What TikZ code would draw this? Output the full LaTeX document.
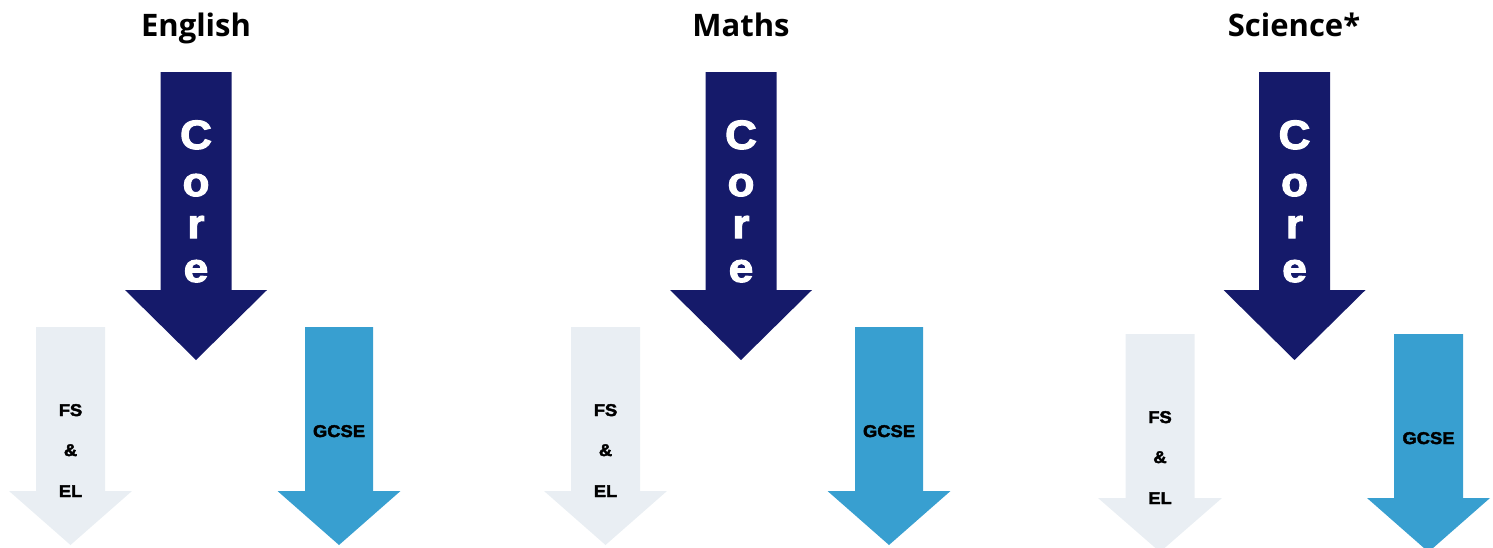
\documentclass[tikz,border=0pt]{standalone}
\usepackage{fontspec}
\setmainfont{Liberation Sans}
\newfontfamily\titlefont{Open Sans}
\newfontfamily\heavyfont[BoldFeatures={FakeBold=2.5,FakeStretch=1.08}]{Liberation Sans}
\definecolor{navy}{HTML}{151A6A}
\definecolor{palegrey}{HTML}{E9EEF3}
\definecolor{skyblue}{HTML}{389FD0}
\begin{document}
\begin{tikzpicture}[x=1pt,y=-1pt,
  titletext/.style={font=\titlefont\bfseries\fontsize{31}{31}\selectfont, anchor=base, inner sep=0pt},
  coreletter/.style={font=\heavyfont\bfseries\fontsize{41}{41}\selectfont, text=white, anchor=base, inner sep=0pt},
  smalltext/.style={font=\heavyfont\bfseries\fontsize{17}{17}\selectfont, text=black, anchor=base, inner sep=0pt}]
\useasboundingbox (0,0) rectangle (1493,547);
% arrow: cx, shaft half width, top, head start, head half width, tip
\newcommand{\downarrowshape}[7]{%
  \fill[#7] ({#1-#2},#3) -- ({#1+#2},#3) -- ({#1+#2},#4) -- ({#1+#5},#4) -- (#1,#6) -- ({#1-#5},#4) -- ({#1-#2},#4) -- cycle;}
% English
\downarrowshape{196}{35.5}{72}{290}{71}{360}{navy}
\downarrowshape{70.5}{34.5}{327}{491}{61.5}{545}{palegrey}
\downarrowshape{339}{34}{327}{491}{61.5}{545}{skyblue}
% Maths
\downarrowshape{741}{35.5}{72}{290}{71}{360}{navy}
\downarrowshape{605.5}{34.5}{327}{491}{61.5}{545}{palegrey}
\downarrowshape{889}{34}{327}{491}{61.5}{545}{skyblue}
% Science
\downarrowshape{1294.5}{35.5}{72}{290}{71}{360}{navy}
\downarrowshape{1160}{34.5}{334}{498}{62}{552}{palegrey}
\downarrowshape{1428.5}{34.5}{334}{498}{61.5}{552}{skyblue}
% titles
\node[titletext] (t1) at (196,36) {English};
\node[titletext] (t2) at (741,36) {Maths};
\node[titletext] (t3) at (1294,36) {Science*};
% core letters
\foreach \cx/\n in {196/a,741/b,1294.5/c}{
  \node[coreletter] (c\n1) at (\cx,149) {C};
  \node[coreletter] (c\n2) at (\cx,196) {o};
  \node[coreletter] (c\n3) at (\cx,238) {r};
  \node[coreletter] (c\n4) at (\cx,282) {e};
}
% FS & EL
\foreach \cx/\dy/\n in {70.5/0/a,605.5/0/b,1160/7/c}{
  \node[smalltext] (f\n1) at (\cx,416+\dy) {FS};
  \node[smalltext] (f\n2) at (\cx,456+\dy) {\&};
  \node[smalltext] (f\n3) at (\cx,497+\dy) {EL};
}
% GCSE
\node[smalltext] (g1) at (339,437) {GCSE};
\node[smalltext] (g2) at (889,437) {GCSE};
\node[smalltext] (g3) at (1428.5,444) {GCSE};
\end{tikzpicture}
\end{document}
